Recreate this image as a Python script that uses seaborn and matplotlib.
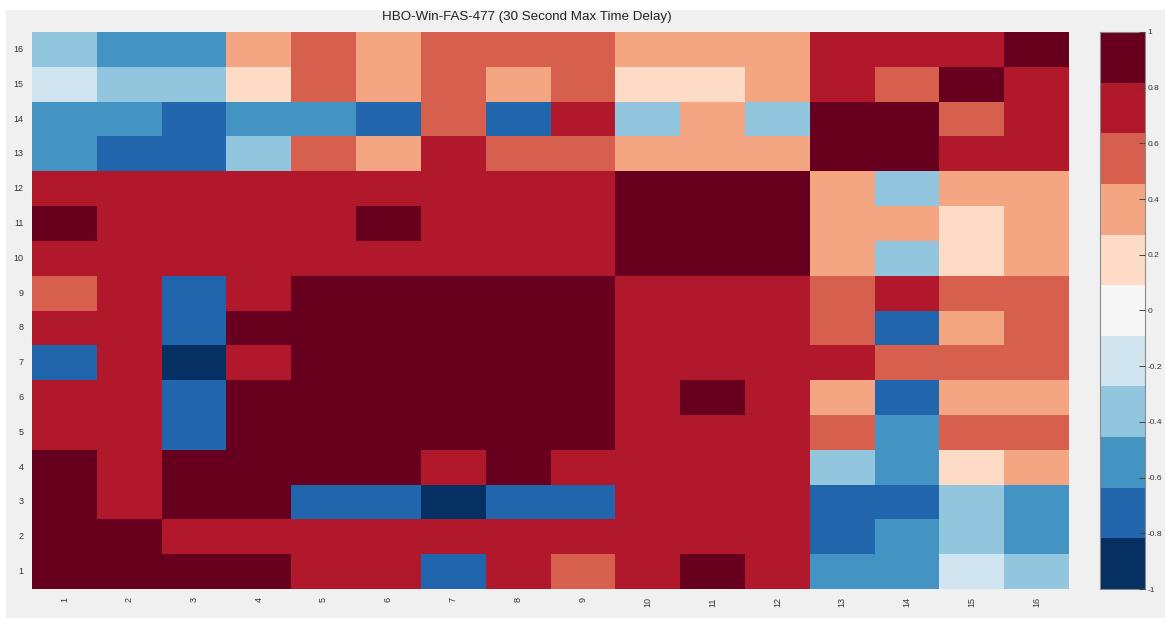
import matplotlib
matplotlib.use("Agg")
import matplotlib.pyplot as plt
from matplotlib.colors import ListedColormap
from matplotlib.patches import Rectangle
import numpy as np
import pandas as pd
import seaborn as sns

# Channel numbers along each axis
channels = list(range(1, 17))

# Correlation values per row (row label -> values for columns 1..16)
row_16 = [-0.36, -0.55, -0.55, 0.37, 0.55, 0.37, 0.55, 0.55, 0.55, 0.37, 0.37, 0.37, 0.73, 0.73, 0.73, 0.91]
row_15 = [-0.18, -0.36, -0.36, 0.18, 0.55, 0.37, 0.55, 0.37, 0.55, 0.18, 0.18, 0.37, 0.73, 0.55, 0.91, 0.73]
row_14 = [-0.55, -0.55, -0.72, -0.55, -0.55, -0.72, 0.55, -0.72, 0.73, -0.36, 0.37, -0.36, 0.91, 0.91, 0.55, 0.73]
row_13 = [-0.55, -0.72, -0.72, -0.36, 0.55, 0.37, 0.73, 0.55, 0.55, 0.37, 0.37, 0.37, 0.91, 0.91, 0.73, 0.73]
row_12 = [0.73, 0.73, 0.73, 0.73, 0.73, 0.73, 0.73, 0.73, 0.73, 0.91, 0.91, 0.91, 0.37, -0.36, 0.37, 0.37]
row_11 = [0.91, 0.73, 0.73, 0.73, 0.73, 0.91, 0.73, 0.73, 0.73, 0.91, 0.91, 0.91, 0.37, 0.37, 0.18, 0.37]
row_10 = [0.73, 0.73, 0.73, 0.73, 0.73, 0.73, 0.73, 0.73, 0.73, 0.91, 0.91, 0.91, 0.37, -0.36, 0.18, 0.37]
row_9 = [0.55, 0.73, -0.72, 0.73, 0.91, 0.91, 0.91, 0.91, 0.91, 0.73, 0.73, 0.73, 0.55, 0.73, 0.55, 0.55]
row_8 = [0.73, 0.73, -0.72, 0.91, 0.91, 0.91, 0.91, 0.91, 0.91, 0.73, 0.73, 0.73, 0.55, -0.72, 0.37, 0.55]
row_7 = [-0.72, 0.73, -0.91, 0.73, 0.91, 0.91, 0.91, 0.91, 0.91, 0.73, 0.73, 0.73, 0.73, 0.55, 0.55, 0.55]
row_6 = [0.73, 0.73, -0.72, 0.91, 0.91, 0.91, 0.91, 0.91, 0.91, 0.73, 0.91, 0.73, 0.37, -0.72, 0.37, 0.37]
row_5 = [0.73, 0.73, -0.72, 0.91, 0.91, 0.91, 0.91, 0.91, 0.91, 0.73, 0.73, 0.73, 0.55, -0.55, 0.55, 0.55]
row_4 = [0.91, 0.73, 0.91, 0.91, 0.91, 0.91, 0.73, 0.91, 0.73, 0.73, 0.73, 0.73, -0.36, -0.55, 0.18, 0.37]
row_3 = [0.91, 0.73, 0.91, 0.91, -0.72, -0.72, -0.91, -0.72, -0.72, 0.73, 0.73, 0.73, -0.72, -0.72, -0.36, -0.55]
row_2 = [0.91, 0.91, 0.73, 0.73, 0.73, 0.73, 0.73, 0.73, 0.73, 0.73, 0.73, 0.73, -0.72, -0.55, -0.36, -0.55]
row_1 = [0.91, 0.91, 0.91, 0.91, 0.73, 0.73, -0.72, 0.73, 0.55, 0.73, 0.91, 0.73, -0.55, -0.55, -0.18, -0.36]

cbar_ticks = [1, 0.8, 0.6, 0.4, 0.2, 0, -0.2, -0.4, -0.6, -0.8, -1]
title = "HBO-Win-FAS-477 (30 Second Max Time Delay)"

rows = [row_16, row_15, row_14, row_13, row_12, row_11, row_10, row_9,
        row_8, row_7, row_6, row_5, row_4, row_3, row_2, row_1]
df = pd.DataFrame(rows, index=channels[::-1], columns=channels)

# 11-step diverging palette (ColorBrewer RdBu, blue = negative)
levels = ['#053061', '#2166ac', '#4393c3', '#92c5de', '#d1e5f0', '#f7f7f7',
          '#fddbc7', '#f4a582', '#d6604d', '#b2182b', '#67001f']
cmap = ListedColormap(levels)

sns.set_theme(style="white")
plt.rcParams['font.family'] = ['Liberation Sans', 'DejaVu Sans']

W, H = 1165, 618
fig = plt.figure(figsize=(W / 100, H / 100), dpi=100, facecolor='white')
# light grey panel behind everything
fig.patches.append(Rectangle((6 / W, 0), 1 - 6 / W, 1 - 10 / H,
                             transform=fig.transFigure, facecolor='#f0f0f0',
                             edgecolor='none', zorder=-10))

ax = fig.add_axes([32 / W, 1 - 589 / H, (1069 - 32) / W, (589 - 32) / H])
cax = fig.add_axes([1100 / W, 1 - 589 / H, (1145 - 1100) / W, (589 - 32) / H])

sns.heatmap(df, ax=ax, cbar_ax=cax, cmap=cmap, vmin=-1, vmax=1,
            linewidths=0, square=False)

ax.set_xlabel("")
ax.set_ylabel("")
ax.tick_params(axis='both', length=0, labelsize=6.5, colors='#333333', pad=6)
ax.set_xticklabels([str(c) for c in channels], rotation=90)
ax.set_yticklabels([str(c) for c in channels[::-1]], rotation=0)

cbar = ax.collections[0].colorbar
cbar.set_ticks(cbar_ticks)
cbar.set_ticklabels([f"{t:g}" for t in cbar_ticks])
cax.set_axisbelow(False)
cax.tick_params(direction='in', length=4, width=0.7, labelsize=6,
                colors='#444444', labelcolor='#333333', pad=2)
cbar.outline.set_visible(True)
cbar.outline.set_edgecolor('#8a8a8a')
cbar.outline.set_linewidth(0.8)

fig.text(527 / W, 1 - 17 / H, title, ha='center', va='center',
         fontsize=9.6, color='#222222')

fig.savefig("out.png", dpi=100, facecolor=fig.get_facecolor())
